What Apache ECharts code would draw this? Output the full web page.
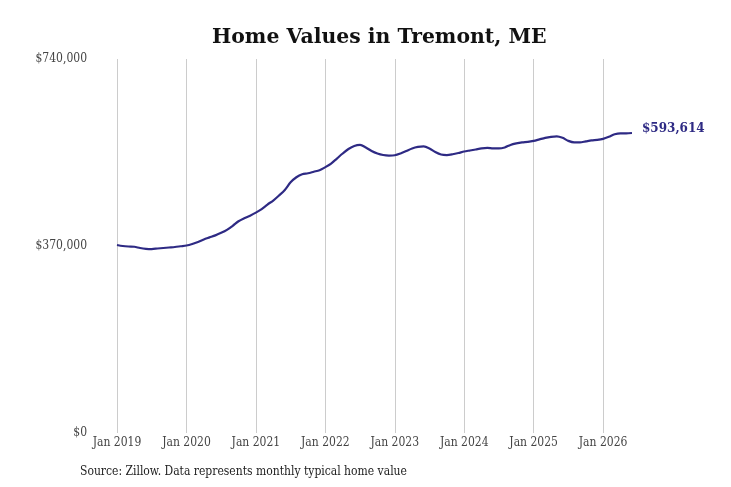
<!DOCTYPE html>
<html>
<head>
<meta charset="utf-8">
<script src="https://cdn.jsdelivr.net/npm/echarts@6/dist/echarts.min.js"></script>
<style>
  html, body { margin: 0; padding: 0; background: #fff; }
  #chart { width: 731px; height: 487px; }
</style>
</head>
<body>
<div id="chart"></div>
<script>
var years = [2019, 2020, 2021, 2022, 2023, 2024, 2025, 2026];
var monthNames = ['Jan', 'Feb', 'Mar', 'Apr', 'May', 'Jun', 'Jul', 'Aug', 'Sep', 'Oct', 'Nov', 'Dec'];

// monthly typical home value, Jan 2019 .. Jun 2026
var values2019 = [372000, 370000, 369000, 368500, 366000, 364500, 364000, 365000, 366000, 367000, 368000, 369500];
var values2020 = [371000, 374000, 378000, 383000, 387000, 391000, 396000, 402000, 410000, 419000, 425000, 430000];
var values2021 = [436000, 443000, 452000, 460000, 470000, 481000, 496000, 506000, 512000, 514000, 517000, 520000];
var values2022 = [526000, 533000, 543000, 553000, 562000, 568000, 570000, 565000, 558000, 553000, 550000, 549000];
var values2023 = [549500, 553000, 558000, 563000, 566000, 567000, 563000, 556000, 551000, 550000, 551500, 554000];
var values2024 = [557000, 559000, 561000, 563000, 564000, 563000, 563000, 565000, 570000, 573000, 575000, 576000];
var values2025 = [578000, 581000, 584000, 586000, 587000, 584000, 578000, 575000, 575000, 577000, 579000, 580000];
var values2026 = [582000, 586000, 591000, 593000, 593000, 593614];

var yTicks = [0, 370000, 740000];

var values = [].concat(values2019, values2020, values2021, values2022,
  values2023, values2024, values2025, values2026);

var months = [];
years.forEach(function (y) {
  monthNames.forEach(function (m) { months.push(m + ' ' + y); });
});
months = months.slice(0, values.length);

var chart = echarts.init(document.getElementById('chart'), null, { renderer: 'canvas' });

var font = 'DejaVu Serif Condensed, DejaVu Serif, serif';

function money(v) {
  return '$' + Math.round(v).toString().replace(/\B(?=(\d{3})+(?!\d))/g, ',');
}

var option = {
  animation: false,
  backgroundColor: '#fff',
  title: {
    text: 'Home Values in Tremont, ME',
    left: 207,
    top: 23,
    textStyle: {
      fontFamily: 'DejaVu Serif',
      fontWeight: 'bold',
      fontSize: 20.4,
      color: '#111'
    }
  },
  graphic: [{
    type: 'text',
    left: 80,
    top: 466,
    style: {
      text: 'Source: Zillow. Data represents monthly typical home value',
      font: '12px ' + font,
      fill: '#222'
    }
  }],
  grid: {
    left: 117,
    right: 99,
    top: 59,
    bottom: 54,
    containLabel: false
  },
  xAxis: {
    type: 'category',
    data: months,
    boundaryGap: false,
    axisLine: { show: false },
    axisTick: { show: false },
    axisLabel: {
      interval: function (i) { return i % 12 === 0; },
      fontFamily: font,
      fontSize: 12,
      color: '#444',
      margin: 4
    },
    splitLine: {
      show: true,
      interval: function (i) { return i % 12 === 0; },
      lineStyle: { color: '#cccccc', width: 1 }
    }
  },
  yAxis: {
    type: 'value',
    min: yTicks[0],
    max: yTicks[yTicks.length - 1],
    interval: yTicks[1] - yTicks[0],
    axisLine: { show: false },
    axisTick: { show: false },
    splitLine: { show: false },
    axisLabel: {
      fontFamily: font,
      fontSize: 12,
      color: '#444',
      margin: 30,
      verticalAlign: 'middle',
      lineHeight: 18,
      padding: [5, 0, 0, 0],
      formatter: money
    }
  },
  series: [{
    type: 'line',
    data: values,
    smooth: 0.3,
    symbol: 'none',
    lineStyle: { color: '#2e2a84', width: 2.2 },
    endLabel: {
      show: true,
      formatter: function (p) { return money(p.value); },
      fontFamily: 'DejaVu Serif',
      fontWeight: 'bold',
      fontSize: 12,
      color: '#2e2a84',
      distance: 10,
      offset: [0, -4]
    }
  }]
};

chart.setOption(option);
</script>
</body>
</html>
